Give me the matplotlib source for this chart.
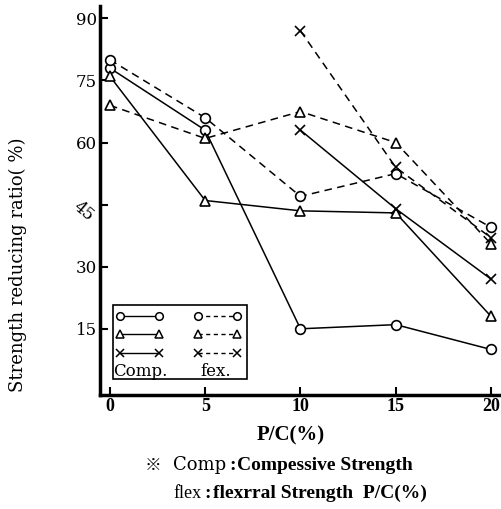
import matplotlib
matplotlib.use("Agg")
import matplotlib.pyplot as plt
from matplotlib.lines import Line2D
from matplotlib.patches import Rectangle
from matplotlib.transforms import ScaledTranslation

x_all = [0, 5, 10, 15, 20]
x_late = [10, 15, 20]

comp_circle = [78, 63, 15, 16, 10]
comp_tri = [76, 46, 43.5, 43, 18]
comp_x = [63, 44, 27]
flex_circle = [80, 66, 47, 52.5, 39.5]
flex_tri = [69, 61, 67.5, 60, 35.5]
flex_x = [87, 54, 37]

xticks = [0, 5, 10, 15, 20]
yticks = [15, 30, 45, 60, 75, 90]

serif = ["Liberation Serif", "DejaVu Serif"]
wide = ["DejaVu Serif"]
W, H = 501, 509

fig = plt.figure(figsize=(W / 100, H / 100), dpi=100)
ax = fig.add_axes([100 / W, 114 / H, 400 / W, 389 / H])
ax.set_xlim(-0.52, 20.47)
ax.set_ylim(-1, 93)

lw = 1.1
ms = 7
common = dict(color="black", lw=lw, markerfacecolor="white", markeredgecolor="black", markeredgewidth=1.2)
dash = (0, (5, 3.5))

ax.plot(x_all, comp_circle, marker="o", ms=ms, ls="-", **common)
ax.plot(x_all, comp_tri, marker="^", ms=ms, ls="-", **common)
ax.plot(x_late, comp_x, marker="x", ms=ms, ls="-", **common)
ax.plot(x_all, flex_circle, marker="o", ms=ms, ls=dash, **common)
ax.plot(x_all, flex_tri, marker="^", ms=ms, ls=dash, **common)
ax.plot(x_late, flex_x, marker="x", ms=ms, ls=dash, **common)

for s in ["top", "right"]:
    ax.spines[s].set_visible(False)
for s in ["left", "bottom"]:
    ax.spines[s].set_linewidth(2.5)

ax.set_xticks(xticks)
ax.set_xticklabels([str(v) for v in xticks], fontfamily=serif, fontweight="bold", fontsize=13)
ax.set_yticks(yticks)
ylabels = ax.set_yticklabels([str(v) for v in yticks], fontfamily=wide, fontsize=12)
for lab in ylabels:
    if lab.get_text() == "45":
        lab.set_rotation(-40)
        lab.set_transform(lab.get_transform() + ScaledTranslation(5 / 72, 0, fig.dpi_scale_trans))
ax.tick_params(axis="both", direction="in", length=6, width=1.5, pad=2)

# axis titles
fig.text(18 / W, 1 - 265 / H, "Strength reducing ratio( %)", fontfamily=wide, fontsize=13,
         rotation=90, ha="center", va="center")
fig.text(291 / W, 1 - 435 / H, "P/C(%)", fontfamily=serif, fontweight="bold", fontsize=15,
         ha="center", va="center")

# legend box drawn manually
ax.add_patch(Rectangle((0.033, 0.041), 0.335, 0.19, transform=ax.transAxes,
                       fill=True, facecolor="white", edgecolor="black", lw=1.2, zorder=5))
rows = [0.203, 0.157, 0.108]
mk = ["o", "^", "x"]
for r, m in zip(rows, mk):
    for (xa, xb), ls in [((0.05, 0.148), "-"), ((0.245, 0.342), (0, (3, 2.5)))]:
        ax.add_line(Line2D([xa, xb], [r, r], transform=ax.transAxes, marker=m, ms=5.5,
                           color="black", lw=1.0, ls=ls, markerfacecolor="white",
                           markeredgecolor="black", markeredgewidth=1.1, zorder=6))
ax.text(0.033, 0.05, "Comp.", transform=ax.transAxes, fontfamily=wide, fontsize=12, zorder=7)
ax.text(0.25, 0.05, "fex.", transform=ax.transAxes, fontfamily=wide, fontsize=12, zorder=7)

# caption
y1 = 1 - 465 / H
y2 = 1 - 493 / H
fig.text(145 / W, y1, "※", fontfamily=["Noto Sans CJK JP", "DejaVu Sans"], fontsize=12, va="center")
fig.text(173 / W, y1, "Comp", fontfamily=wide, fontsize=13, va="center")
fig.text(229 / W, y1, ":", fontfamily=serif, fontweight="bold", fontsize=14, va="center")
fig.text(237 / W, y1, "Compessive Strength", fontfamily=serif, fontweight="bold", fontsize=14, va="center")
fig.text(173 / W, y2, "flex", fontfamily=serif, fontsize=13, va="center")
fig.text(204 / W, y2, ":", fontfamily=serif, fontweight="bold", fontsize=14, va="center")
fig.text(213 / W, y2, "flexrral Strength  P/C(%)", fontfamily=serif, fontweight="bold", fontsize=14, va="center")

plt.savefig("out.png", dpi=100)
